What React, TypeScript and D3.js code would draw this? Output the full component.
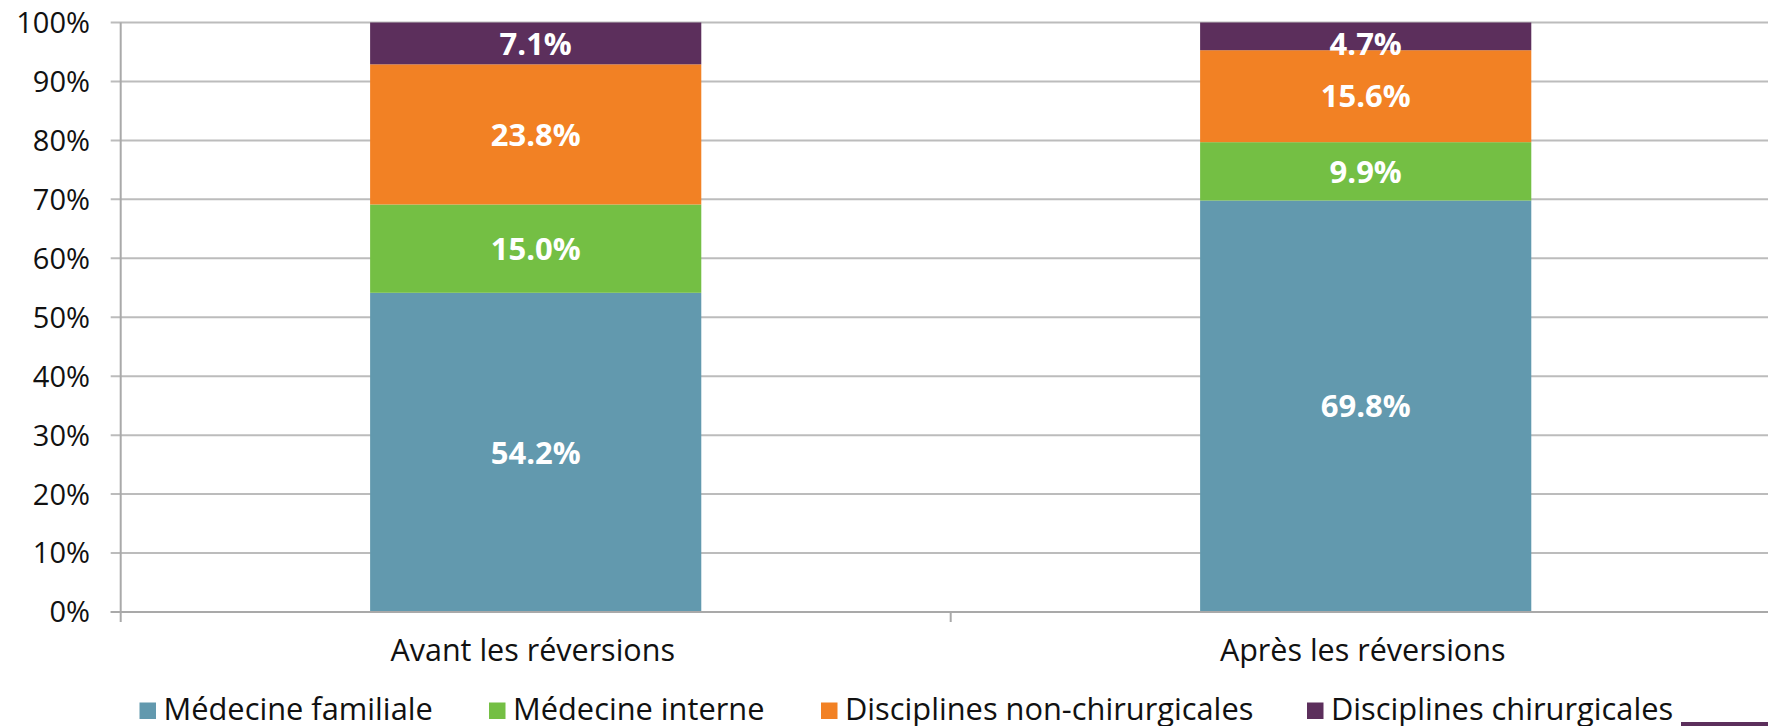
import * as d3 from "d3";
import React, { useRef, useEffect } from "react";

const categories = ["Avant les réversions", "Après les réversions"];
const seriesNames = [
  "Médecine familiale",
  "Médecine interne",
  "Disciplines non-chirurgicales",
  "Disciplines chirurgicales",
];
const medecineFamiliale = [54.2, 69.8];
const medecineInterne = [15.0, 9.9];
const nonChirurgicales = [23.8, 15.6];
const chirurgicales = [7.1, 4.7];
const yTicks = [0, 0.1, 0.2, 0.3, 0.4, 0.5, 0.6, 0.7, 0.8, 0.9, 1];

const colors = ["#6299ae", "#74bf44", "#f28124", "#5c2f5c"];

const width = 1768;
const height = 726;

export default function App() {
  const ref = useRef<SVGSVGElement>(null);

  useEffect(() => {
    draw();
  }, []);

  const draw = () => {
    const svg = d3.select(ref.current);
    svg.selectAll("*").remove();

    const rows = categories.map((c, i) => ({
      cat: c,
      s0: medecineFamiliale[i],
      s1: medecineInterne[i],
      s2: nonChirurgicales[i],
      s3: chirurgicales[i],
    }));
    const keys = ["s0", "s1", "s2", "s3"];
    const stacked = d3.stack<any>().keys(keys).offset(d3.stackOffsetExpand)(rows);

    const x = d3.scaleBand().domain(categories).range([120.7, 1780.7]).padding(0);
    const y = d3.scaleLinear().domain([0, 1]).range([612, 22.5]);
    const barW = x.bandwidth() * 0.399;

    // gridlines
    svg
      .append("g")
      .selectAll("line")
      .data(yTicks)
      .enter()
      .append("line")
      .attr("x1", 110.7)
      .attr("x2", width)
      .attr("y1", (d) => y(d))
      .attr("y2", (d) => y(d))
      .attr("stroke", "#bcbcbc")
      .attr("stroke-width", 2);

    // y labels
    svg
      .append("g")
      .selectAll("text")
      .data(yTicks)
      .enter()
      .append("text")
      .attr("x", 90)
      .attr("y", (d) => y(d))
      .attr("dy", "0.36em")
      .attr("text-anchor", "end")
      .attr("font-family", "'Open Sans', sans-serif")
      .attr("font-size", "29px")
      .attr("fill", "#111")
      .text((d) => d3.format(".0%")(d));

    // bars
    const groups = svg
      .append("g")
      .selectAll("g")
      .data(stacked)
      .enter()
      .append("g")
      .attr("fill", (d, i) => colors[i]);

    groups
      .selectAll("rect")
      .data((d) => d)
      .enter()
      .append("rect")
      .attr("x", (d: any) => x(d.data.cat)! + (x.bandwidth() - barW) / 2)
      .attr("width", barW)
      .attr("y", (d) => y(d[1]))
      .attr("height", (d) => y(d[0]) - y(d[1]));

    // value labels
    const raw = [medecineFamiliale, medecineInterne, nonChirurgicales, chirurgicales];
    stacked.forEach((s, si) => {
      svg
        .append("g")
        .selectAll("text")
        .data(s)
        .enter()
        .append("text")
        .attr("x", (d: any) => x(d.data.cat)! + x.bandwidth() / 2)
        .attr("y", (d) => Math.max((y(d[0]) + y(d[1])) / 2, y(1) + 21))
        .attr("dy", "0.36em")
        .attr("text-anchor", "middle")
        .attr("font-family", "'Open Sans', sans-serif")
        .attr("font-weight", "bold")
        .attr("font-size", "31px")
        .attr("fill", "#fff")
        .text((d, i) => raw[si][i].toFixed(1) + "%");
    });

    // axes lines
    svg
      .append("line")
      .attr("x1", 120.7)
      .attr("x2", 120.7)
      .attr("y1", y(1))
      .attr("y2", 622)
      .attr("stroke", "#a9a9a9")
      .attr("stroke-width", 2);
    svg
      .append("line")
      .attr("x1", 110.7)
      .attr("x2", width)
      .attr("y1", y(0))
      .attr("y2", y(0))
      .attr("stroke", "#a9a9a9")
      .attr("stroke-width", 2);
    svg
      .append("g")
      .selectAll("line")
      .data(categories.slice(1))
      .enter()
      .append("line")
      .attr("x1", (d) => x(d)!)
      .attr("x2", (d) => x(d)!)
      .attr("y1", y(0))
      .attr("y2", 622)
      .attr("stroke", "#a9a9a9")
      .attr("stroke-width", 2);

    // category labels
    svg
      .append("g")
      .selectAll("text")
      .data(categories)
      .enter()
      .append("text")
      .attr("x", (d) => x(d)! + x.bandwidth() / 2 - 3)
      .attr("y", 661)
      .attr("text-anchor", "middle")
      .attr("font-family", "'Open Sans', sans-serif")
      .attr("font-size", "30.5px")
      .attr("fill", "#111")
      .text((d) => d);

    // legend
    const legendX = [139.5, 489, 821, 1307];
    const legend = svg
      .append("g")
      .selectAll("g")
      .data(seriesNames)
      .enter()
      .append("g")
      .attr("transform", (d, i) => `translate(${legendX[i]},0)`);
    legend
      .append("rect")
      .attr("y", 702.5)
      .attr("width", 16.5)
      .attr("height", 16.5)
      .attr("fill", (d, i) => colors[i]);
    legend
      .append("text")
      .attr("x", 24)
      .attr("y", 720)
      .attr("font-family", "'Open Sans', sans-serif")
      .attr("font-size", "30.8px")
      .attr("fill", "#111")
      .text((d) => d);

    svg
      .append("rect")
      .attr("x", 1681)
      .attr("y", 722)
      .attr("width", width - 1681)
      .attr("height", 4)
      .attr("fill", colors[3]);
  };

  return (
    <svg
      ref={ref}
      width={width}
      height={height}
      style={{ position: "absolute", left: 0, top: 0, background: "#fff" }}
    ></svg>
  );
}
